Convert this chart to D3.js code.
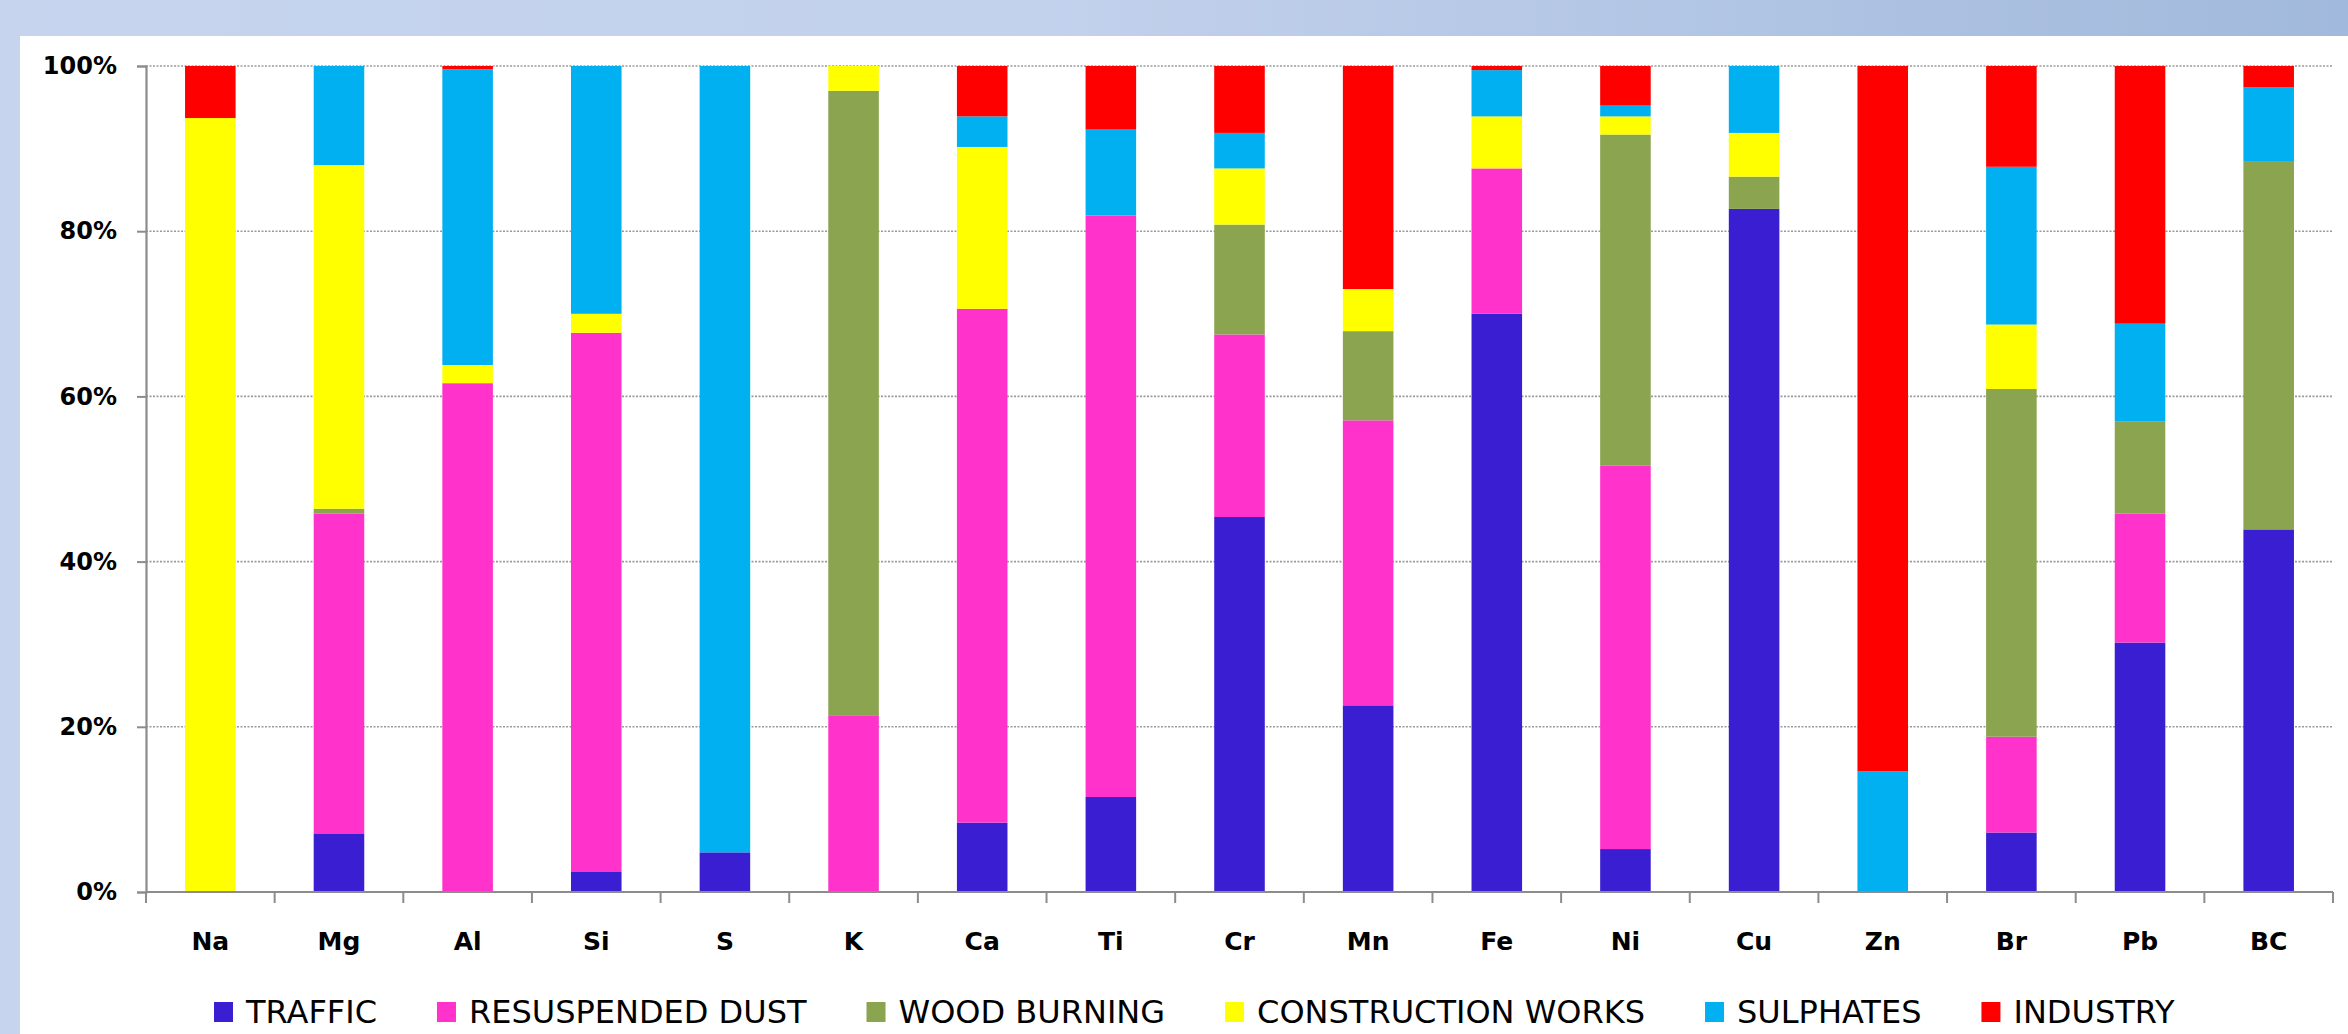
<!DOCTYPE html>
<html>
<head>
<meta charset="utf-8">
<script src="https://cdn.jsdelivr.net/npm/d3@7"></script>
<style>
  html, body { margin: 0; padding: 0; background: #ffffff; }
  svg { display: block; }
</style>
</head>
<body>
<svg id="chart" width="2348" height="1034"></svg>
<script>
// Elements analysed
const elements = ["Na", "Mg", "Al", "Si", "S", "K", "Ca", "Ti", "Cr", "Mn", "Fe", "Ni", "Cu", "Zn", "Br", "Pb", "BC"];

// Source names, bottom to top of each stack
const sources = ["TRAFFIC", "RESUSPENDED DUST", "WOOD BURNING", "CONSTRUCTION WORKS", "SULPHATES", "INDUSTRY"];

// Contribution of each source to each element (%)
const traffic      = [0,    7.1,  0,    2.5,  4.8,  0,    8.4,  11.5, 45.4, 22.6, 70.0, 5.2,  82.7, 0,    7.2,  30.2, 43.9];
const resuspended  = [0,    38.7, 61.6, 65.2, 0,    21.4, 62.2, 70.4, 22.1, 34.5, 17.6, 46.4, 0,    0,    11.6, 15.6, 0];
const woodBurning  = [0,    0.6,  0,    0,    0,    75.6, 0,    0,    13.3, 10.8, 0,    40.1, 3.9,  0,    42.1, 11.2, 44.5];
const construction = [93.7, 41.6, 2.2,  2.3,  0,    3.0,  19.6, 0,    6.8,  5.1,  6.3,  2.2,  5.3,  0,    7.8,  0,    0];
const sulphates    = [0,    12.0, 35.8, 30.0, 95.2, 0,    3.7,  10.4, 4.3,  0,    5.6,  1.3,  8.1,  14.6, 19.1, 11.8, 9.0];
const industry     = [6.3,  0,    0.4,  0,    0,    0,    6.1,  7.7,  8.1,  27.0, 0.5,  4.8,  0,    85.4, 12.2, 31.2, 2.6];

const yTicks = [0, 20, 40, 60, 80, 100];
const colors = ["#3a1fd2", "#ff33cc", "#8aa44f", "#ffff00", "#00b0f0", "#ff0000"];

const seriesValues = [traffic, resuspended, woodBurning, construction, sulphates, industry];

// One row per element for the stack layout
const rows = elements.map((el, i) => {
  const row = { element: el };
  sources.forEach((s, k) => { row[s] = seriesValues[k][i]; });
  return row;
});

const svg = d3.select("#chart");
const W = 2348, H = 1034;

// Page frame: blue band on top and left, white panel
const defs = svg.append("defs");
const grad = defs.append("linearGradient").attr("id", "band").attr("x1", "0").attr("x2", "1").attr("y1", "0").attr("y2", "0");
grad.append("stop").attr("offset", "0").attr("stop-color", "#c6d4ee");
grad.append("stop").attr("offset", "0.45").attr("stop-color", "#c2d1ec");
grad.append("stop").attr("offset", "1").attr("stop-color", "#a1b9dc");
svg.append("rect").attr("x", 0).attr("y", 0).attr("width", W).attr("height", H).attr("fill", "#c6d4ee");
svg.append("rect").attr("x", 0).attr("y", 0).attr("width", W).attr("height", 36).attr("fill", "url(#band)");
svg.append("rect").attr("x", 20).attr("y", 36).attr("width", W - 20).attr("height", H - 36).attr("fill", "#ffffff");

const plot = { left: 146, right: 2333, top: 66, bottom: 892 };

const x = d3.scaleBand()
  .domain(elements)
  .range([plot.left, plot.right])
  .paddingInner(0.607)
  .paddingOuter(0.3035);

const y = d3.scaleLinear().domain([0, 100]).range([plot.bottom, plot.top]);

// Dotted horizontal gridlines
svg.append("g").selectAll("line")
  .data(yTicks.filter(t => t > 0))
  .join("line")
  .attr("x1", plot.left).attr("x2", plot.right)
  .attr("y1", d => y(d)).attr("y2", d => y(d))
  .attr("stroke", "#9a9a9a")
  .attr("stroke-width", 1.6)
  .attr("stroke-dasharray", "2,1.5");

// Stacked bars
const stack = d3.stack().keys(sources)(rows);
svg.append("g").selectAll("g")
  .data(stack)
  .join("g")
  .attr("fill", (d, i) => colors[i])
  .selectAll("rect")
  .data(d => d)
  .join("rect")
  .attr("x", d => x(d.data.element))
  .attr("width", x.bandwidth())
  .attr("y", d => y(d[1]))
  .attr("height", d => Math.max(0, y(d[0]) - y(d[1])));

// Y axis
const yAxis = d3.axisLeft(y).tickValues(yTicks).tickFormat(d => d + "%").tickSize(9).tickPadding(20);
const gy = svg.append("g").attr("transform", `translate(${plot.left},0)`).call(yAxis);
gy.select(".domain").attr("stroke", "#8c8c8c").attr("stroke-width", 2.2);
gy.selectAll(".tick line").attr("stroke", "#8c8c8c").attr("stroke-width", 2);
gy.selectAll(".tick text")
  .attr("font-family", "'DejaVu Sans', sans-serif")
  .attr("font-weight", "bold")
  .attr("font-size", 24)
  .attr("fill", "#000");

// X axis: baseline with tick marks between categories
const step = x.step();
const boundaries = [plot.left].concat(elements.map(e => x(e) + x.bandwidth() / 2 + step / 2));
svg.append("line")
  .attr("x1", plot.left).attr("x2", plot.right)
  .attr("y1", plot.bottom).attr("y2", plot.bottom)
  .attr("stroke", "#8c8c8c").attr("stroke-width", 2.2);
svg.append("g").selectAll("line")
  .data(boundaries)
  .join("line")
  .attr("x1", d => d).attr("x2", d => d)
  .attr("y1", plot.bottom).attr("y2", plot.bottom + 11)
  .attr("stroke", "#8c8c8c").attr("stroke-width", 2);

svg.append("g").selectAll("text")
  .data(elements)
  .join("text")
  .attr("x", d => x(d) + x.bandwidth() / 2)
  .attr("y", 950)
  .attr("text-anchor", "middle")
  .attr("font-family", "'DejaVu Sans', sans-serif")
  .attr("font-weight", "bold")
  .attr("font-size", 25)
  .attr("fill", "#000")
  .text(d => d);

// Legend
const legend = svg.append("g");
let lx = 214;
sources.forEach((s, i) => {
  legend.append("rect")
    .attr("x", lx).attr("y", 1002)
    .attr("width", 19).attr("height", 20)
    .attr("fill", colors[i]);
  const t = legend.append("text")
    .attr("x", lx + 32).attr("y", 1023)
    .attr("font-family", "'DejaVu Sans', sans-serif")
    .attr("font-size", 32)
    .attr("fill", "#000")
    .text(s);
  lx += 32 + t.node().getComputedTextLength() + 60;
});
</script>
</body>
</html>
